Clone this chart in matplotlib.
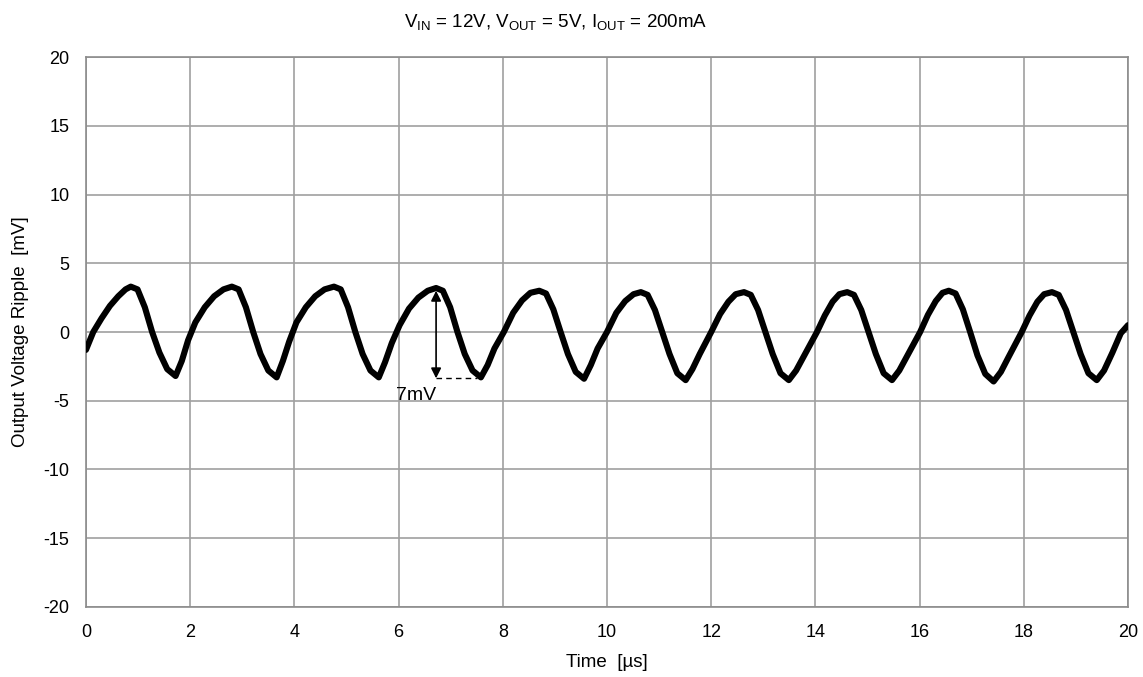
import numpy as np
import matplotlib.pyplot as plt

plt.rcParams['font.family'] = ['Liberation Sans', 'DejaVu Sans']
plt.rcParams['mathtext.fontset'] = 'custom'
plt.rcParams['mathtext.rm'] = 'Liberation Sans'
plt.rcParams['mathtext.it'] = 'Liberation Sans'
plt.rcParams['axes.unicode_minus'] = False

# --- datos (tiempo en us, rizado en mV) ---
t_us = [
    0.00, 0.14, 0.30, 0.46, 0.62, 0.76,
    0.86, 0.99, 1.13, 1.27, 1.41, 1.56, 1.72, 1.84, 1.96, 2.10, 2.28, 2.46, 2.64,
    2.80, 2.93, 3.07, 3.21, 3.35, 3.50, 3.66, 3.78, 3.90, 4.04, 4.22, 4.40, 4.58,
    4.76, 4.89, 5.03, 5.17, 5.31, 5.46, 5.62, 5.74, 5.87, 6.02, 6.20, 6.38, 6.56,
    6.72, 6.85, 6.99, 7.13, 7.27, 7.42, 7.58, 7.71, 7.84, 8.02, 8.20, 8.37, 8.53,
    8.70, 8.83, 8.97, 9.11, 9.25, 9.40, 9.56, 9.69, 9.82, 10.00, 10.18, 10.35, 10.51,
    10.65, 10.78, 10.92, 11.06, 11.20, 11.35, 11.51, 11.64, 11.78, 12.00, 12.17, 12.33, 12.47,
    12.63, 12.76, 12.90, 13.04, 13.18, 13.33, 13.49, 13.63, 13.78, 14.03, 14.18, 14.33, 14.46,
    14.61, 14.74, 14.88, 15.02, 15.16, 15.31, 15.47, 15.61, 15.76, 16.01, 16.16, 16.31, 16.44,
    16.56, 16.69, 16.83, 16.97, 17.11, 17.26, 17.42, 17.56, 17.71, 17.96, 18.11, 18.26, 18.39,
    18.54, 18.67, 18.81, 18.95, 19.09, 19.24, 19.40, 19.54, 19.70, 19.86, 20.00,
]
ripple_mv = [
    -1.3, 0.0, 1.0, 1.9, 2.6, 3.1,
    3.3, 3.1, 1.8, 0.0, -1.5, -2.7, -3.2, -2.1, -0.6, 0.7, 1.8, 2.6, 3.1,
    3.3, 3.1, 1.8, 0.0, -1.6, -2.8, -3.3, -2.1, -0.7, 0.7, 1.8, 2.6, 3.1,
    3.3, 3.1, 1.8, 0.0, -1.6, -2.8, -3.3, -2.2, -0.8, 0.5, 1.7, 2.5, 3.0,
    3.2, 3.0, 1.8, 0.0, -1.6, -2.8, -3.3, -2.4, -1.2, 0.0, 1.4, 2.3, 2.85,
    3.0, 2.8, 1.65, 0.0, -1.6, -2.9, -3.4, -2.4, -1.2, 0.0, 1.4, 2.25, 2.75,
    2.9, 2.7, 1.6, 0.0, -1.6, -3.0, -3.5, -2.7, -1.6, 0.0, 1.3, 2.2, 2.75,
    2.9, 2.7, 1.6, 0.0, -1.6, -3.0, -3.5, -2.8, -1.75, 0.0, 1.2, 2.2, 2.75,
    2.9, 2.7, 1.6, 0.0, -1.6, -3.0, -3.5, -2.8, -1.75, 0.0, 1.25, 2.25, 2.85,
    3.0, 2.8, 1.65, 0.0, -1.7, -3.05, -3.6, -2.9, -1.8, 0.0, 1.2, 2.2, 2.75,
    2.9, 2.7, 1.6, 0.0, -1.6, -3.0, -3.5, -2.8, -1.5, -0.1, 0.5,
]

x_ticks = [0, 2, 4, 6, 8, 10, 12, 14, 16, 18, 20]
y_ticks = [-20, -15, -10, -5, 0, 5, 10, 15, 20]

# anotación de rizado pico a pico
arrow_t = 6.72
arrow_top = 3.0
arrow_bottom = -3.37
dash_end_t = 7.5
ripple_label = "7mV"

fig = plt.figure(figsize=(11.43, 6.77), dpi=100)
ax = fig.add_axes([0.0752, 0.1034, 0.9117, 0.8124])

ax.plot(t_us, ripple_mv, color='black', linewidth=4.4, solid_joinstyle='round',
        solid_capstyle='round', zorder=3)

ax.set_xlim(0, 20)
ax.set_ylim(-20, 20)
ax.set_xticks(x_ticks)
ax.set_yticks(y_ticks)
ax.tick_params(length=0, labelsize=13, pad=12)
ax.tick_params(axis='y', pad=12)
ax.grid(True, color='#a0a0a0', linewidth=1.2)
for s in ax.spines.values():
    s.set_color('#8c8c8c')
    s.set_linewidth(1.2)

# flecha doble + línea discontinua
ax.annotate('', xy=(arrow_t, arrow_top), xytext=(arrow_t, arrow_bottom),
            arrowprops=dict(arrowstyle='<|-|>', color='black', lw=1.2,
                            mutation_scale=15, shrinkA=0, shrinkB=0), zorder=4)
ax.plot([arrow_t, dash_end_t], [arrow_bottom, arrow_bottom], color='black',
        linewidth=1.0, linestyle=(0, (4, 3)), zorder=4)
ax.text(6.33, -4.6, ripple_label, fontsize=14, ha='center', va='center', zorder=5)

ax.set_xlabel('Time  [µs]', fontsize=13.5)
ax.set_ylabel('Output Voltage Ripple  [mV]', fontsize=13.5)
ax.xaxis.set_label_coords(0.5, -0.085)
ax.yaxis.set_label_coords(-0.055, 0.5)

fig.text(0.486, 0.968,
         r'V$_{\mathrm{IN}}$ = 12V, V$_{\mathrm{OUT}}$ = 5V, I$_{\mathrm{OUT}}$ = 200mA',
         ha='center', va='center', fontsize=13.5)

fig.savefig('out.png', dpi=100)
